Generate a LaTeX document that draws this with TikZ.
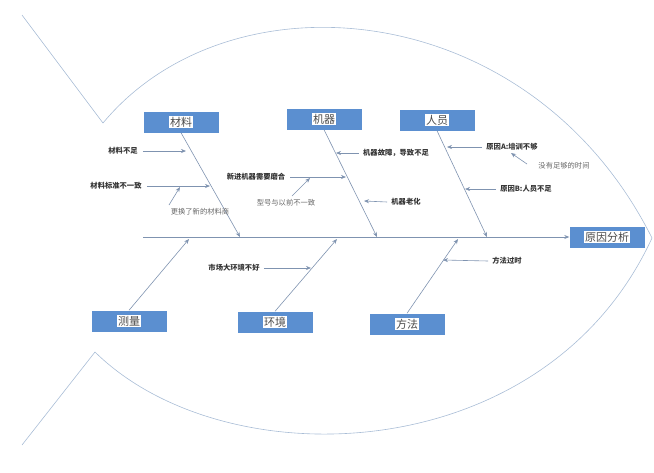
\documentclass[tikz,border=0pt]{standalone}
\usepackage{fontspec}
\newfontfamily\cjk{Noto Sans CJK SC}
\usetikzlibrary{arrows.meta}
\definecolor{boxblue}{HTML}{5B8FD0}
\definecolor{linec}{HTML}{7F93B0}
\definecolor{fishc}{HTML}{A9BDD6}
\begin{document}
\begin{tikzpicture}[x=1pt,y=-1pt,
  catbox/.style={fill=boxblue,minimum width=75pt,minimum height=21pt,inner sep=0pt},
  cattext/.style={fill=white,inner sep=1pt,font=\cjk\fontsize{11}{11}\selectfont,text=black!70},
  bone/.style={draw=linec,line width=0.6pt,-{Stealth[length=5pt,width=4pt]}},
  sub/.style={draw=linec,line width=0.6pt,-{Stealth[length=5pt,width=4pt]}},
  lab/.style={font=\cjk\fontsize{7.3}{8}\selectfont\bfseries,text=black!80,inner sep=1pt},
  lab2/.style={font=\cjk\fontsize{7.3}{8}\selectfont,text=black!60,inner sep=1pt}]
\useasboundingbox (0,0) rectangle (654,472);
% fish outline
\draw[fishc,line width=0.6pt] (22,15) -- (103,123) .. controls (230,-30) and (530,-5) .. (652,238)
  .. controls (545,470) and (225,480) .. (95,352) -- (22,445);
% spine and head
\node[catbox] (head) at (607,237) {};
\node[cattext] at (head) {原因分析};
\coordinate (s0) at (143,237);
\draw[bone] (s0) -- (head.west);
% top categories
\node[catbox] (m1) at (181,122) {}; \node[cattext] at (m1) {材料};
\node[catbox] (m2) at (324,119) {}; \node[cattext] at (m2) {机器};
\node[catbox] (m3) at (437,120) {}; \node[cattext] at (m3) {人员};
\coordinate (e1) at (240,237); \coordinate (e2) at (377,237); \coordinate (e3) at (487,237);
\draw[bone] (m1.south) -- (e1);
\draw[bone] (m2.south) -- (e2);
\draw[bone] (m3.south) -- (e3);
% bottom categories
\node[catbox] (b1) at (129,321) {}; \node[cattext] at (b1) {测量};
\node[catbox] (b2) at (275,322) {}; \node[cattext] at (b2) {环境};
\node[catbox] (b3) at (407,324) {}; \node[cattext] at (b3) {方法};
\coordinate (f1) at (189,239); \coordinate (f2) at (337,239); \coordinate (f3) at (458,239);
\draw[bone] (b1.north) -- (f1);
\draw[bone] (b2.north) -- (f2);
\draw[bone] (b3.north) -- (f3);
% sub causes
\node[lab] (t1) at (123,151) {材料不足};
\coordinate (a1) at (186,151);
\draw[sub] (t1.east) ++(4,0) -- (a1);
\node[lab] (t2) at (116,186) {材料标准不一致};
\coordinate (a2) at (210,186);
\draw[sub] (t2.east) ++(4,0) -- (a2);
\node[lab2] (t3) at (200,212) {更换了新的材料商};
\coordinate (a3) at (180,187);
\draw[sub] (169,205) -- (a3);
\node[lab] (t4) at (256,177) {新进机器需要磨合};
\coordinate (a4) at (346,177);
\draw[sub] (t4.east) ++(4,0) -- (a4);
\node[lab2] (t5) at (286,203) {型号与以前不一致};
\coordinate (a5) at (310,178);
\draw[sub] (292,196) -- (a5);
\node[lab] (t6) at (396,153) {机器故障，导致不足};
\coordinate (a6) at (336,153);
\draw[sub] (t6.west) ++(-3,0) -- (a6);
\node[lab] (t7) at (406,202) {机器老化};
\coordinate (a7) at (364,201);
\draw[sub] (t7.west) ++(-3,0) -- (a7);
\node[lab] (t8) at (512,147) {原因A:培训不够};
\coordinate (a8) at (447,147);
\draw[sub] (t8.west) ++(-3,0) -- (a8);
\node[lab2] (t9) at (564,166) {没有足够的时间};
\coordinate (a9) at (511,153);
\draw[sub] (527,164) -- (a9);
\node[lab] (t10) at (526,189) {原因B:人员不足};
\coordinate (a10) at (465,189);
\draw[sub] (t10.west) ++(-3,0) -- (a10);
\node[lab] (t11) at (234,268) {市场大环境不好};
\coordinate (a11) at (311,268);
\draw[sub] (t11.east) ++(3,0) -- (a11);
\node[lab] (t12) at (507,261) {方法过时};
\coordinate (a12) at (443,260);
\draw[sub] (t12.west) ++(-3,0) -- (a12);
\end{tikzpicture}
\end{document}
